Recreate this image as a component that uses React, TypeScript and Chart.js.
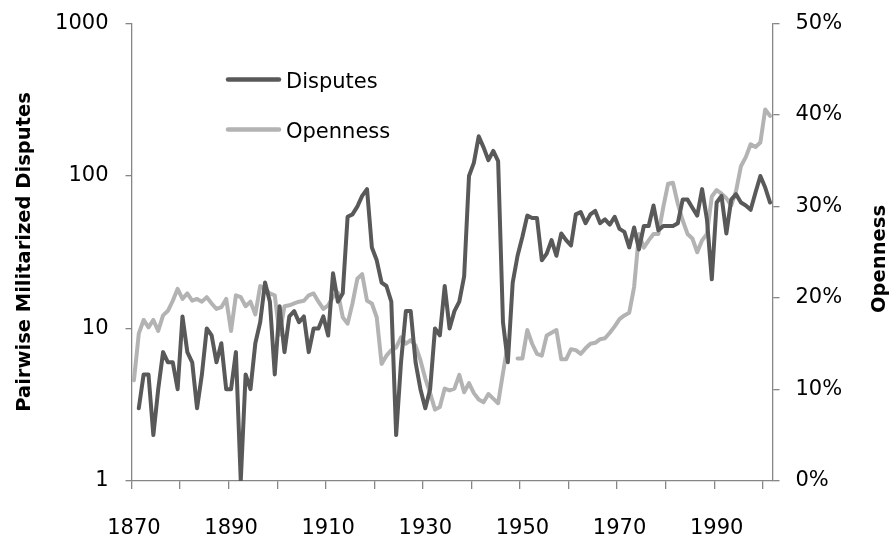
import React, { useEffect, useRef } from 'react';
import { Chart, registerables } from 'chart.js';

Chart.register(...registerables);

// ---- Data ----
const years: string[] = Array.from({ length: 132 }, (_, i) => String(1870 + i));

const xTickLabels = ['1870', '1890', '1910', '1930', '1950', '1970', '1990'];
const leftTicks = [1, 10, 100, 1000];
const rightTicks = [0, 10, 20, 30, 40, 50];

// Pairwise militarized disputes, 1870-2001 (log scale, left axis)
const disputes: (number | null)[] = [
  null, 3, 5, 5, 2, 4, 7, 6, 6, 4, // 1870-1879
  12, 7, 6, 3, 5, 10, 9, 6, 8, 4, // 1880-1889
  4, 7, 1, 5, 4, 8, 11, 20, 15, 5, // 1890-1899
  14, 7, 12, 13, 11, 12, 7, 10, 10, 12, // 1900-1909
  9, 23, 15, 17, 54, 56, 63, 74, 82, 34, // 1910-1919
  28, 20, 19, 15, 2, 6, 13, 13, 6, 4, // 1920-1929
  3, 4, 10, 9, 19, 10, 13, 15, 22, 100, // 1930-1939
  122, 182, 154, 127, 146, 125, 11, 6, 20, 30, // 1940-1949
  40, 55, 53, 53, 28, 31, 38, 30, 42, 38, // 1950-1959
  35, 56, 58, 49, 56, 59, 49, 52, 48, 54, // 1960-1969
  45, 43, 34, 46, 33, 47, 47, 64, 44, 47, // 1970-1979
  47, 47, 49, 70, 70, 62, 55, 82, 52, 21, // 1980-1989
  67, 74, 42, 70, 76, 67, 64, 60, 78, 100, // 1990-1999
  84, 67, // 2000-2001
];

// Openness (%), right axis
const openness: (number | null)[] = [
  11.0, 16.1, 17.6, 16.8, 17.6, 16.4, 18.1, 18.6, 19.7, 21.0, // 1870-1879
  19.9, 20.5, 19.7, 19.9, 19.6, 20.1, 19.4, 18.8, 19.0, 19.9, // 1880-1889
  16.4, 20.3, 20.1, 19.1, 19.6, 18.2, 21.3, 21.0, 20.5, 20.3, // 1890-1899
  16.0, 19.1, 19.2, 19.4, 19.6, 19.7, 20.3, 20.5, 19.6, 18.8, // 1900-1909
  19.2, 20.1, 20.6, 17.9, 17.2, 19.4, 22.1, 22.6, 19.7, 19.4, // 1910-1919
  17.9, 12.8, 13.7, 14.3, 14.6, 15.7, 15.0, 15.4, 14.8, 13.2, // 1920-1929
  11.2, 9.6, 7.8, 8.1, 10.1, 9.9, 10.1, 11.6, 9.7, 10.7, // 1930-1939
  9.6, 8.9, 8.6, 9.5, 9.0, 8.5, 11.8, 15.0, null, 13.4, // 1940-1949
  13.4, 16.5, 15.0, 13.9, 13.7, 15.9, 16.2, 16.5, 13.3, 13.3, // 1950-1959
  14.4, 14.3, 13.9, 14.5, 15.0, 15.1, 15.5, 15.6, 16.2, 16.9, // 1960-1969
  17.7, 18.1, 18.4, 21.2, 27.0, 25.5, 26.3, 27.0, 27.0, 29.9, // 1970-1979
  32.5, 32.6, 30.3, 28.5, 27.0, 26.5, 25.0, 26.3, 27.0, 31.1, // 1980-1989
  31.8, 31.4, 30.9, 30.1, 31.7, 34.4, 35.4, 36.8, 36.5, 37.0, // 1990-1999
  40.6, 39.9, // 2000-2001
];

const seriesNames = ['Disputes', 'Openness'];
const seriesColors = ['#595959', '#b3b3b3'];
const leftTitle = 'Pairwise Militarized Disputes';
const rightTitle = 'Openness';

const FONT = '"DejaVu Sans", sans-serif';
const AXIS_COLOR = '#868686';

const overlayPlugin = {
  id: 'overlay',
  afterDraw(chart: any) {
    const ctx: CanvasRenderingContext2D = chart.ctx;
    ctx.save();
    // Legend (inside plot area)
    seriesNames.forEach((name, i) => {
      const y = 79.5 + i * 50;
      ctx.strokeStyle = seriesColors[i];
      ctx.lineWidth = 4.5;
      ctx.lineCap = 'round';
      ctx.beginPath();
      ctx.moveTo(228, y);
      ctx.lineTo(279, y);
      ctx.stroke();
      ctx.fillStyle = '#000';
      ctx.font = `21px ${FONT}`;
      ctx.textAlign = 'left';
      ctx.textBaseline = 'alphabetic';
      ctx.fillText(name, 286, y + 8.5);
    });
    // Axis titles
    ctx.font = `bold 19.5px ${FONT}`;
    ctx.fillStyle = '#000';
    ctx.textAlign = 'center';
    ctx.textBaseline = 'alphabetic';
    ctx.save();
    ctx.translate(30, 252);
    ctx.rotate(-Math.PI / 2);
    ctx.fillText(leftTitle, 0, 0);
    ctx.restore();
    ctx.save();
    ctx.translate(885, 259);
    ctx.rotate(-Math.PI / 2);
    ctx.fillText(rightTitle, 0, 0);
    ctx.restore();
    ctx.restore();
  },
};

export default function App() {
  const canvasRef = useRef<HTMLCanvasElement | null>(null);

  useEffect(() => {
    if (!canvasRef.current) return;
    const tickFont = { family: FONT, size: 21 };
    const chart = new Chart(canvasRef.current, {
      type: 'line',
      data: {
        labels: years,
        datasets: [
          {
            label: seriesNames[0],
            data: disputes,
            yAxisID: 'y',
            borderColor: seriesColors[0],
            backgroundColor: seriesColors[0],
            borderWidth: 4,
            pointRadius: 0,
            tension: 0,
            borderJoinStyle: 'round',
            borderCapStyle: 'round',
            spanGaps: false,
          },
          {
            label: seriesNames[1],
            data: openness,
            yAxisID: 'y1',
            borderColor: seriesColors[1],
            backgroundColor: seriesColors[1],
            borderWidth: 4,
            pointRadius: 0,
            tension: 0,
            borderJoinStyle: 'round',
            borderCapStyle: 'round',
            spanGaps: false,
          },
        ],
      },
      options: {
        responsive: false,
        animation: false,
        events: [],
        layout: { padding: { top: 23.5, left: 0, right: 0, bottom: 0 } },
        plugins: {
          legend: { display: false },
          tooltip: { enabled: false },
          title: { display: false },
        },
        scales: {
          x: {
            type: 'category',
            offset: true,
            grid: {
              offset: true,
              drawOnChartArea: false,
              drawTicks: true,
              tickLength: 8,
              lineWidth: 1.3,
              tickColor: (c: any) =>
                c.index !== undefined && c.index % 10 === 0 ? AXIS_COLOR : 'rgba(0,0,0,0)',
            },
            border: { display: true, color: AXIS_COLOR, width: 1.3 },
            ticks: {
              autoSkip: false,
              maxRotation: 0,
              minRotation: 0,
              padding: 27,
              color: '#000',
              font: tickFont,
              callback: (_v: any, i: number) =>
                xTickLabels.includes(years[i]) ? years[i] : '',
            },
            afterFit: (s: any) => {
              s.height = 56;
              s.paddingLeft = 0;
              s.paddingRight = 0;
            },
          },
          y: {
            type: 'logarithmic',
            position: 'left',
            min: 1,
            max: 1000,
            afterBuildTicks: (s: any) => {
              s.ticks = leftTicks.map((v) => ({ value: v }));
            },
            grid: {
              drawOnChartArea: false,
              tickLength: 6,
              lineWidth: 1.3,
              color: AXIS_COLOR,
            },
            border: { display: true, color: AXIS_COLOR, width: 1.3 },
            ticks: {
              padding: 17,
              color: '#000',
              font: tickFont,
              callback: (v: any) => String(v),
            },
            afterFit: (s: any) => {
              s.width = 131.5;
              s.paddingTop = 0;
              s.paddingBottom = 0;
            },
          },
          y1: {
            type: 'linear',
            position: 'right',
            min: 0,
            max: 50,
            afterBuildTicks: (s: any) => {
              s.ticks = rightTicks.map((v) => ({ value: v }));
            },
            grid: {
              drawOnChartArea: false,
              tickLength: 7,
              lineWidth: 1.3,
              color: AXIS_COLOR,
            },
            border: { display: true, color: AXIS_COLOR, width: 1.3 },
            ticks: {
              padding: 16,
              color: '#000',
              font: tickFont,
              callback: (v: any) => `${v}%`,
            },
            afterFit: (s: any) => {
              s.width = 894 - 772.5;
              s.paddingTop = 0;
              s.paddingBottom = 0;
            },
          },
        },
      },
      plugins: [overlayPlugin],
    });
    return () => chart.destroy();
  }, []);

  return (
    <div style={{ position: 'fixed', left: 0, top: 0, width: 894, height: 537, background: '#fff' }}>
      <canvas ref={canvasRef} width={894} height={537} style={{ display: 'block' }} />
    </div>
  );
}
